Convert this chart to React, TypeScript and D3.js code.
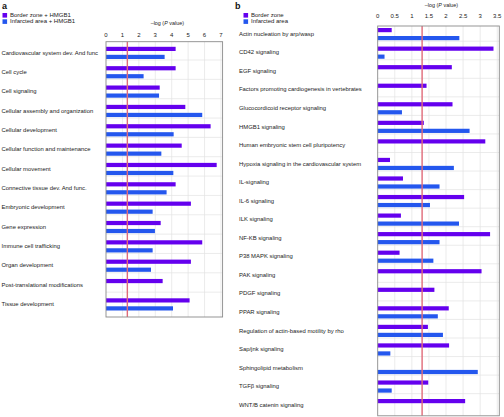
import React from "react";
import * as d3 from "d3";

const catsA = [
  "Cardiovascular system dev. And func",
  "Cell cycle",
  "Cell signaling",
  "Cellular assembly and organization",
  "Cellular development",
  "Cellular function and maintenance",
  "Cellular movement",
  "Connective tissue dev. And func.",
  "Embryonic development",
  "Gene expression",
  "Immune cell trafficking",
  "Organ development",
  "Post-translational modifications",
  "Tissue development",
];
const borderA = [4.24, 4.24, 3.27, 4.83, 6.37, 4.61, 6.74, 4.24, 5.17, 3.33, 5.86, 5.17, 3.45, 5.09];
const infarctA = [3.57, 2.29, 3.23, 5.86, 4.12, 3.37, 4.1, 3.69, 2.84, 2.98, 2.84, 2.74, 0, 4.08];
const ticksA = [0, 1, 2, 3, 4, 5, 6, 7];

const catsB = [
  "Actin nucleation by arp/wasp",
  "CD42 signaling",
  "EGF signaling",
  "Factors promoting cardiogenesis in vertebrates",
  "Glucocordicoid receptor signaling",
  "HMGB1 signaling",
  "Human embryonic stem cell pluripotency",
  "Hypoxia signaling in the cardiovascular system",
  "IL-signaling",
  "IL-6 signaling",
  "ILK signaling",
  "NF-KB signaling",
  "P38 MAPK signaling",
  "PAK signaling",
  "PDGF signaling",
  "PPAR signaling",
  "Regulation of actin-based motility by rho",
  "Sap/jnk signaling",
  "Sphingolipid metabolism",
  "TGFβ signaling",
  "WNT/B catenin signaling",
];
const borderB = [0.41, 3.39, 2.17, 1.43, 2.19, 1.35, 3.15, 0.36, 0.74, 2.53, 0.68, 3.29, 0.64, 3.04, 1.66, 2.08, 1.47, 2.09, 0, 1.48, 2.56];
const infarctB = [2.39, 0.2, 0, 0, 0.71, 2.69, 0, 2.23, 1.81, 1.53, 2.38, 1.81, 1.63, 0, 0, 1.76, 1.91, 0.37, 2.93, 0.41, 0];
const ticksB = [0, 0.5, 1, 1.5, 2, 2.5, 3, 3.5];

const legendA = ["Border zone + HMGB1", "Infarcted area + HMGB1"];
const legendB = ["Border zone", "Infarcted area"];
const threshold = 1.3;

const PURPLE = "#6400ee";
const BLUE = "#2457ee";
const FONT = "'Liberation Sans', Arial, Helvetica, sans-serif";

type PanelProps = {
  letter: string;
  letterX: number;
  legend: string[];
  legendX: number;
  cats: string[];
  border: number[];
  infarct: number[];
  ticks: number[];
  xDomainMax: number;
  x0: number;
  x1: number;
  boxTop: number;
  boxBottom: number;
  firstCenter: number;
  lastCenter: number;
  labelX: number;
  titleY: number;
  tickY: number;
};

function Panel(p: PanelProps) {
  const x = d3.scaleLinear().domain([0, p.xDomainMax]).range([p.x0, p.x1]);
  const y = d3.scalePoint<string>().domain(p.cats).range([p.firstCenter, p.lastCenter]);
  const fmt = (v: number) => (Number.isInteger(v) ? String(v) : String(v));
  return (
    <g>
      <text x={p.letterX} y={9} fontSize={9} fontWeight="bold" fontFamily={FONT} fill="#111">
        {p.letter}
      </text>
      {p.legend.map((t, i) => (
        <g key={t}>
          <rect x={p.legendX} y={13 + i * 6.3} width={4.6} height={4.6} fill={i === 0 ? PURPLE : BLUE} />
          <text x={p.legendX + 7.5} y={15.4 + i * 6.3} fontSize={6} fontFamily={FONT} fill="#222" dominantBaseline="middle">
            {t}
          </text>
        </g>
      ))}
      <text x={(p.x0 + p.x1) / 2 + 3} y={p.titleY} fontSize={5.4} fontFamily={FONT} fill="#222" textAnchor="middle" dominantBaseline="middle">
        –log (<tspan fontStyle="italic">P</tspan> value)
      </text>
      {p.ticks.map((t) => (
        <text key={t} x={x(t)} y={p.tickY} fontSize={6} fontFamily={FONT} fill="#222" textAnchor="middle" dominantBaseline="middle">
          {fmt(t)}
        </text>
      ))}
      <rect x={p.x0} y={p.boxTop} width={p.x1 - p.x0} height={p.boxBottom - p.boxTop} fill="#fff" stroke="none" />
      {p.ticks.slice(1).map((t) => (
        <line key={t} x1={x(t)} x2={x(t)} y1={p.boxTop} y2={p.boxBottom} stroke="#e2e2e2" strokeWidth={0.7} />
      ))}
      {p.cats.slice(0, -1).map((c) => (
        <line key={c} x1={p.x0} x2={p.x1} y1={(y(c) as number) + 7} y2={(y(c) as number) + 7} stroke="#e2e2e2" strokeWidth={0.7} />
      ))}
      {p.cats.map((c, i) => {
        const cy = y(c) as number;
        return (
          <g key={c}>
            <text x={p.labelX} y={cy} fontSize={5.9} fontFamily={FONT} fill="#222" dominantBaseline="middle">
              {c}
            </text>
            {p.border[i] > 0 && (
              <rect x={x(0)} y={cy - 6.2} width={x(p.border[i]) - x(0)} height={4.2} fill={PURPLE} />
            )}
            {p.infarct[i] > 0 && (
              <rect x={x(0)} y={cy + 1.8} width={x(p.infarct[i]) - x(0)} height={4.2} fill={BLUE} />
            )}
          </g>
        );
      })}
      <line x1={x(threshold)} x2={x(threshold)} y1={p.boxTop} y2={p.boxBottom} stroke="#e06a78" strokeWidth={1.4} />
      <rect x={p.x0} y={p.boxTop} width={p.x1 - p.x0} height={p.boxBottom - p.boxTop} fill="none" stroke="#8a8a8a" strokeWidth={0.9} />
    </g>
  );
}

export default function App() {
  return (
    <svg width={504} height={417} style={{ position: "absolute", left: 0, top: 0, background: "#fff" }}>
      <rect width={504} height={417} fill="#fff" />
      <Panel
        letter="a"
        letterX={2}
        legend={legendA}
        legendX={2.5}
        cats={catsA}
        border={borderA}
        infarct={infarctA}
        ticks={ticksA}
        xDomainMax={7.1}
        x0={106}
        x1={222.6}
        boxTop={41.7}
        boxBottom={317}
        firstCenter={53}
        lastCenter={304.5}
        labelX={1.5}
        titleY={24}
        tickY={35}
      />
      <Panel
        letter="b"
        letterX={235}
        legend={legendB}
        legendX={243.5}
        cats={catsB}
        border={borderB}
        infarct={infarctB}
        ticks={ticksB}
        xDomainMax={3.56}
        x0={377.7}
        x1={499.3}
        boxTop={26}
        boxBottom={415.8}
        firstCenter={34.2}
        lastCenter={405.2}
        labelX={239}
        titleY={6}
        tickY={16.5}
      />
    </svg>
  );
}
